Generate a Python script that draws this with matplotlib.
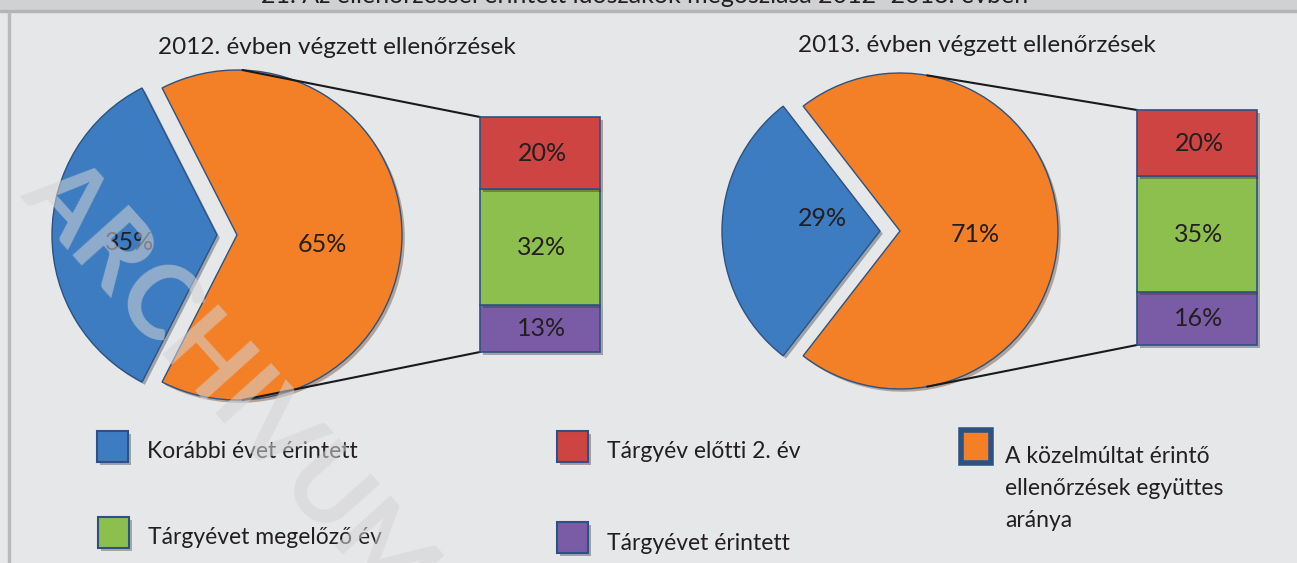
import matplotlib.pyplot as plt
import matplotlib.patheffects as pe
from matplotlib.patches import Rectangle
import numpy as np

plt.rcParams['font.family'] = ['Lato', 'DejaVu Sans']

# data
header = '21. Az ellenőrzéssel érintett időszakok megoszlása 2012–2013. évben'
years = ['2012. évben végzett ellenőrzések', '2013. évben végzett ellenőrzések']
pie_labels = ['Korábbi évet érintett', 'A közelmúltat érintő\nellenőrzések együttes\naránya']
pie_values = [[35, 65], [29, 71]]
bar_labels = ['Tárgyévet érintett', 'Tárgyévet megelőző év', 'Tárgyév előtti 2. év']
bar_values = [[13, 32, 20], [16, 35, 20]]

blue, orange = '#3d7cc0', '#f37f26'
bar_colors = ['#7a5ba6', '#8dbf4f', '#cd4443']
edge = '#2d5282'
text_col = '#231f20'

W, H = 1297, 563
fig = plt.figure(figsize=(W / 100, H / 100), dpi=100)
fig.patch.set_facecolor('#e6e7e8')
ax = fig.add_axes([0, 0, 1, 1])
ax.set_axis_off()

# header band
ax.add_patch(Rectangle((0, H - 10), W, 10, color='#d0d1d3', zorder=0))
ax.add_patch(Rectangle((0, H - 12), W, 2.5, color='#b3b4b6', zorder=0))
ax.add_patch(Rectangle((8, 0), 2, H - 12, color='#b8b9bb', zorder=0))
ax.text(W / 2 - 4, H - 7, header, ha='center', va='bottom', fontsize=18, color=text_col)

# layout: pie centre, radius, connector angle, bar x / bottom / top, label spots (pixel space)
layout = [
    dict(c=(237, H - 235), r=165, ang=88, bx=480, bb=H - 352, bt=H - 117,
         tx=337, ty=H - 47, l0=(130, H - 243), l1=(322, H - 245)),
    dict(c=(900, H - 231), r=158, ang=80, bx=1137, bb=H - 345, bt=H - 110,
         tx=977, ty=H - 45, l0=(822, H - 218), l1=(975, H - 234)),
]
bw = 120
shadow = [pe.SimplePatchShadow(offset=(2, -2), alpha=0.35), pe.Normal()]

for vals, bars, title, L in zip(pie_values, bar_values, years, layout):
    share = vals[0] / sum(vals)
    wedges, texts = ax.pie(
        vals, colors=[blue, orange], startangle=180 - share * 180,
        center=L['c'], radius=L['r'], explode=[20, 0],
        wedgeprops=dict(edgecolor=edge, linewidth=1),
    )
    for w in wedges:
        w.set_path_effects(shadow)
    cx, cy = L['c']
    ax.text(*L['l0'], f'{vals[0]}%', ha='center', va='center',
            fontsize=18, color=text_col, zorder=5)
    ax.text(*L['l1'], f'{vals[1]}%', ha='center', va='center',
            fontsize=18, color=text_col, zorder=5)

    # stacked bar, scaled to a fixed height
    scale = (L['bt'] - L['bb']) / sum(bars)
    bottom = L['bb']
    for v, col in zip(bars, bar_colors):
        ax.bar(L['bx'] + bw / 2, v * scale, width=bw, bottom=bottom, color=col,
               edgecolor=edge, linewidth=1.2, zorder=3, path_effects=shadow)
        ax.text(L['bx'] + bw / 2 + 2, bottom + v * scale / 2, f'{v}%', ha='center',
                va='center', fontsize=18, color=text_col, zorder=5)
        bottom += v * scale

    # connector lines from pie to bar
    a = np.deg2rad(L['ang'])
    ax.plot([cx + L['r'] * np.cos(a), L['bx']], [cy + L['r'] * np.sin(a), L['bt']],
            color='#1a1a1a', lw=1.5, zorder=2)
    ax.plot([cx + L['r'] * np.cos(a), L['bx']], [cy - L['r'] * np.sin(a), L['bb']],
            color='#1a1a1a', lw=1.5, zorder=2)

    ax.text(L['tx'], L['ty'], title, ha='center', va='center', fontsize=17.5, color=text_col)

# legend
legend = [
    (pie_labels[0], blue, 97, H - 447),
    (bar_labels[2], bar_colors[2], 557, H - 447),
    (pie_labels[1], orange, 961, H - 447),
    (bar_labels[1], bar_colors[1], 98, H - 533),
    (bar_labels[0], bar_colors[0], 557, H - 538),
]
for label, col, x, y in legend:
    if col == orange:
        ax.add_patch(Rectangle((x, y - 16), 30, 33, facecolor=col, edgecolor=edge, lw=4))
        ax.text(x + 44, y + 1, label, ha='left', va='top', fontsize=16.5,
                color=text_col, linespacing=1.65)
    else:
        ax.add_patch(Rectangle((x, y - 15), 31, 31, facecolor=col, edgecolor=edge, lw=1.5,
                               path_effects=shadow))
        ax.text(x + 50, y - 5, label, ha='left', va='center', fontsize=16.5, color=text_col)

# watermark
ax.text(42, H - 175, 'ARCHIVUM', rotation=-48, rotation_mode='anchor', ha='left',
        va='center', fontsize=74, fontweight='bold', color='#d4d4d6', alpha=0.55, zorder=10)

ax.set_xlim(0, W)
ax.set_ylim(0, H)
ax.set_aspect('auto')

fig.savefig('out.png', dpi=100, facecolor=fig.get_facecolor())
